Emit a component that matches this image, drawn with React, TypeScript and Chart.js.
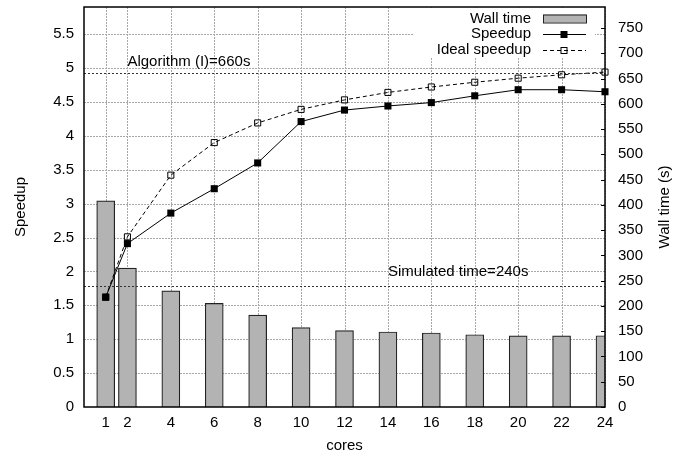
import React, { useEffect, useRef } from "react";
import { Chart, registerables } from "chart.js";

Chart.register(...registerables);

// ---- data ----
const cores = [1, 2, 4, 6, 8, 10, 12, 14, 16, 18, 20, 22, 24];
const wallTime = [408, 275, 230, 205, 182, 157, 151, 148.5, 146.5, 143, 140.6, 140.6, 141];
const speedup = [1.62, 2.41, 2.86, 3.22, 3.6, 4.21, 4.38, 4.44, 4.49, 4.59, 4.68, 4.68, 4.65];
const idealSpeedup = [1.62, 2.51, 3.42, 3.9, 4.19, 4.39, 4.53, 4.64, 4.72, 4.79, 4.85, 4.9, 4.94];
const xTicks = [1, 2, 4, 6, 8, 10, 12, 14, 16, 18, 20, 22, 24];
const speedupTicks = [0, 0.5, 1, 1.5, 2, 2.5, 3, 3.5, 4, 4.5, 5, 5.5];
const wallTicks = [0, 50, 100, 150, 200, 250, 300, 350, 400, 450, 500, 550, 600, 650, 700, 750];
const refValues = [660, 240];
const refLabels = ["Algorithm (I)=660s", "Simulated time=240s"];
const refLabelX = [2, 14];
const refLabelY = [684, 268];
const legendLabels = ["Wall time", "Speedup", "Ideal speedup"];

const FONT = "'Liberation Sans', Arial, Helvetica, sans-serif";
const FS = 15;

const decorPlugin = {
  id: "decor",
  beforeDatasetsDraw(chart: any) {
    const { ctx, chartArea: a, scales } = chart;
    ctx.save();
    ctx.strokeStyle = "#a8a8a8";
    ctx.lineWidth = 1;
    ctx.setLineDash([2, 1]);
    for (const v of xTicks) {
      const px = Math.round(scales.x.getPixelForValue(v)) + 0.5;
      ctx.beginPath();
      ctx.moveTo(px, a.top);
      ctx.lineTo(px, a.bottom);
      ctx.stroke();
    }
    for (const v of speedupTicks) {
      if (v === 0) continue;
      const py = Math.round(scales.y.getPixelForValue(v)) + 0.5;
      ctx.beginPath();
      ctx.moveTo(a.left, py);
      ctx.lineTo(a.right, py);
      ctx.stroke();
    }
    ctx.restore();
  },
  afterDatasetsDraw(chart: any) {
    const { ctx, chartArea: a, scales } = chart;
    ctx.save();
    // reference lines
    ctx.strokeStyle = "#333";
    ctx.lineWidth = 1;
    ctx.setLineDash([2, 2]);
    refValues.forEach((v) => {
      const py = Math.round(scales.y2.getPixelForValue(v)) + 0.5;
      ctx.beginPath();
      ctx.moveTo(a.left, py);
      ctx.lineTo(a.right, py);
      ctx.stroke();
    });
    ctx.setLineDash([]);
    ctx.fillStyle = "#000";
    ctx.font = `${FS}px ${FONT}`;
    ctx.textAlign = "left";
    ctx.textBaseline = "middle";
    refLabels.forEach((t, i) => {
      ctx.fillText(t, scales.x.getPixelForValue(refLabelX[i]), scales.y2.getPixelForValue(refLabelY[i]));
    });

    // legend
    ctx.fillStyle = "#fff";
    ctx.fillRect(413, a.top + 1, 182, 49);
    const textR = 531;
    const s0 = 543;
    const s1 = 586;
    const sm = 564;
    const rows = [18.5, 34, 50];
    ctx.fillStyle = "#000";
    ctx.textAlign = "right";
    legendLabels.forEach((t, i) => ctx.fillText(t, textR, rows[i]));
    // wall time swatch
    ctx.fillStyle = "#b3b3b3";
    ctx.fillRect(s0, rows[0] - 4, s1 - s0, 8);
    ctx.strokeStyle = "#222";
    ctx.lineWidth = 1;
    ctx.strokeRect(s0 + 0.5, rows[0] - 4 + 0.5, s1 - s0, 8);
    // speedup
    ctx.strokeStyle = "#000";
    ctx.beginPath();
    ctx.moveTo(s0, rows[1] + 0.5);
    ctx.lineTo(s1, rows[1] + 0.5);
    ctx.stroke();
    ctx.fillStyle = "#000";
    ctx.fillRect(sm - 3.5, rows[1] - 3, 7, 7);
    // ideal
    ctx.setLineDash([4, 3]);
    ctx.beginPath();
    ctx.moveTo(s0, rows[2] + 0.5);
    ctx.lineTo(s1, rows[2] + 0.5);
    ctx.stroke();
    ctx.setLineDash([]);
    ctx.strokeRect(sm - 3, rows[2] - 2.5, 6, 6);

    // frame
    ctx.strokeStyle = "#000";
    ctx.lineWidth = 1.5;
    ctx.strokeRect(a.left, a.top, a.right - a.left, a.bottom - a.top);

    // small inward tick marks on right axis
    ctx.lineWidth = 1;
    for (const v of wallTicks) {
      const py = Math.round(scales.y2.getPixelForValue(v)) + 0.5;
      ctx.beginPath();
      ctx.moveTo(a.right - 4, py);
      ctx.lineTo(a.right, py);
      ctx.stroke();
    }

    // axis titles
    ctx.fillStyle = "#000";
    ctx.font = `${FS}px ${FONT}`;
    ctx.textAlign = "center";
    ctx.textBaseline = "middle";
    const cy = (a.top + a.bottom) / 2;
    ctx.save();
    ctx.translate(21, cy);
    ctx.rotate(-Math.PI / 2);
    ctx.fillText("Speedup", 0, 0);
    ctx.restore();
    ctx.save();
    ctx.translate(665, cy);
    ctx.rotate(-Math.PI / 2);
    ctx.fillText("Wall time (s)", 0, 0);
    ctx.restore();
    ctx.fillText("cores", (a.left + a.right) / 2, 446);
    ctx.restore();
  },
};

const noPad = (s: any) => {
  s.paddingTop = 0;
  s.paddingBottom = 0;
  s.paddingLeft = 0;
  s.paddingRight = 0;
};

export default function App() {
  const ref = useRef<HTMLCanvasElement | null>(null);
  useEffect(() => {
    if (!ref.current) return;
    Chart.defaults.font.family = FONT;
    Chart.defaults.font.size = FS;
    Chart.defaults.color = "#000";
    const chart = new Chart(ref.current, {
      type: "bar",
      data: {
        datasets: [
          {
            type: "line",
            label: "Speedup",
            data: cores.map((c, i) => ({ x: c, y: speedup[i] })),
            yAxisID: "y",
            borderColor: "#000",
            borderWidth: 1,
            pointStyle: "rect",
            pointRadius: 5,
            pointBackgroundColor: "#000",
            pointBorderColor: "#000",
            pointBorderWidth: 0,
            clip: false,
            order: 1,
          },
          {
            type: "line",
            label: "Ideal speedup",
            data: cores.map((c, i) => ({ x: c, y: idealSpeedup[i] })),
            yAxisID: "y",
            borderColor: "#000",
            borderWidth: 1,
            borderDash: [4, 3],
            pointStyle: "rect",
            pointRadius: 4.3,
            pointBackgroundColor: "rgba(0,0,0,0)",
            pointBorderColor: "#000",
            pointBorderWidth: 1,
            clip: false,
            order: 2,
          },
          {
            type: "bar",
            label: "Wall time",
            data: cores.map((c, i) => ({ x: c, y: wallTime[i] })) as any,
            yAxisID: "y2",
            backgroundColor: "#b3b3b3",
            borderColor: "#222",
            borderWidth: 1.2,
            barThickness: 18,
            order: 3,
          },
        ],
      } as any,
      options: {
        animation: false,
        responsive: false,
        devicePixelRatio: 1,
        layout: { padding: { top: 7, left: 0, right: 0, bottom: 0 } },
        plugins: { legend: { display: false }, tooltip: { enabled: false } },
        scales: {
          x: {
            type: "linear",
            min: 0,
            max: 24,
            offset: false,
            grid: { display: false, drawTicks: false, offset: false },
            border: { display: false },
            afterBuildTicks: (s: any) => {
              s.ticks = xTicks.map((v) => ({ value: v }));
            },
            afterFit: (s: any) => {
              s.height = 48;
              noPad(s);
            },
            ticks: { padding: 7, maxRotation: 0, autoSkip: false, callback: (v: any) => String(v) },
          },
          y: {
            type: "linear",
            position: "left",
            min: 0,
            max: 5.9,
            grid: { display: false, drawTicks: false },
            border: { display: false },
            afterBuildTicks: (s: any) => {
              s.ticks = speedupTicks.map((v) => ({ value: v }));
            },
            afterFit: (s: any) => {
              s.width = 84;
              noPad(s);
            },
            ticks: { padding: 10, callback: (v: any) => String(v) },
          },
          y2: {
            type: "linear",
            position: "right",
            min: 0,
            max: 791.6,
            grid: { display: false, drawTicks: false },
            border: { display: false },
            afterBuildTicks: (s: any) => {
              s.ticks = wallTicks.map((v) => ({ value: v }));
            },
            afterFit: (s: any) => {
              s.width = 79;
              noPad(s);
            },
            ticks: { padding: 13, callback: (v: any) => String(v) },
          },
        },
      } as any,
      plugins: [decorPlugin],
    });
    return () => chart.destroy();
  }, []);
  return (
    <div style={{ position: "absolute", left: 0, top: 0, width: 684, height: 455, background: "#fff" }}>
      <canvas ref={ref} width={684} height={455} style={{ width: 684, height: 455, display: "block" }} />
    </div>
  );
}
